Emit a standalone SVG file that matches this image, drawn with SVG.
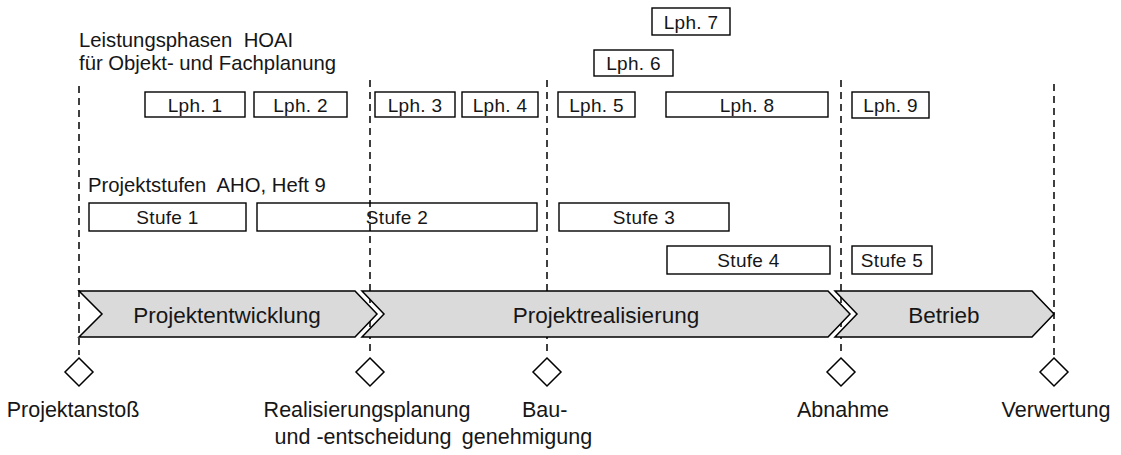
<svg xmlns="http://www.w3.org/2000/svg" width="1121" height="455" viewBox="0 0 1121 455">
  <style>
    text { font-family: "Liberation Sans", Arial, sans-serif; fill: #161616; }
    .title { font-size: 20.3px; }
    .box rect { fill: none; stroke: #000; stroke-width: 1.4; }
    .box text { font-size: 19px; text-anchor: middle; letter-spacing: 0.3px; }
    .phase path { fill: #dadada; stroke: #000; stroke-width: 1.5; stroke-linejoin: miter; }
    .phase text { font-size: 22.5px; text-anchor: middle; }
    .guide { stroke: #000; stroke-width: 1.5; stroke-dasharray: 7 5; fill: none; }
    .ms path { fill: #fff; stroke: #000; stroke-width: 1.5; }
    .ms text { font-size: 21.5px; text-anchor: middle; }
  </style>

  <!-- milestone guide lines -->
  <g id="guides">
    <line class="guide" x1="79" y1="86" x2="79" y2="355"/>
    <line class="guide" x1="370" y1="80" x2="370" y2="355"/>
    <line class="guide" x1="547" y1="80" x2="547" y2="355"/>
    <line class="guide" x1="841" y1="80" x2="841" y2="355"/>
    <line class="guide" x1="1054" y1="84" x2="1054" y2="355"/>
  </g>

  <!-- headings -->
  <text class="title" x="79" y="47" xml:space="preserve">Leistungsphasen  HOAI</text>
  <text class="title" x="79" y="70">für Objekt- und Fachplanung</text>
  <text class="title" x="88" y="192" xml:space="preserve">Projektstufen  AHO, Heft 9</text>

  <!-- HOAI work phases -->
  <g id="lph1" class="box"><rect x="145" y="92" width="100" height="25"/><text x="195" y="112">Lph. 1</text></g>
  <g id="lph2" class="box"><rect x="254" y="92" width="93" height="25"/><text x="300.5" y="112">Lph. 2</text></g>
  <g id="lph3" class="box"><rect x="375" y="92" width="80" height="25"/><text x="415" y="112">Lph. 3</text></g>
  <g id="lph4" class="box"><rect x="462" y="92" width="76" height="25"/><text x="500" y="112">Lph. 4</text></g>
  <g id="lph5" class="box"><rect x="558" y="92" width="77" height="25"/><text x="596.5" y="112">Lph. 5</text></g>
  <g id="lph6" class="box"><rect x="594" y="50" width="79" height="26"/><text x="633.5" y="70">Lph. 6</text></g>
  <g id="lph7" class="box"><rect x="652" y="8" width="78" height="27"/><text x="691" y="29">Lph. 7</text></g>
  <g id="lph8" class="box"><rect x="666" y="92" width="162" height="25"/><text x="747" y="112">Lph. 8</text></g>
  <g id="lph9" class="box"><rect x="852" y="92" width="77" height="26"/><text x="890.5" y="112">Lph. 9</text></g>

  <!-- AHO project stages -->
  <g id="stufe1" class="box"><rect x="89" y="203" width="157" height="28"/><text x="167.5" y="224">Stufe 1</text></g>
  <g id="stufe2" class="box"><rect x="257" y="203" width="280" height="28"/><text x="397" y="224">Stufe 2</text></g>
  <g id="stufe3" class="box"><rect x="559" y="203" width="170" height="28"/><text x="644" y="224">Stufe 3</text></g>
  <g id="stufe4" class="box"><rect x="667" y="246" width="163" height="28"/><text x="748.5" y="267">Stufe 4</text></g>
  <g id="stufe5" class="box"><rect x="852" y="246" width="80" height="28"/><text x="892" y="267">Stufe 5</text></g>

  <!-- project phases -->
  <g id="phase-entwicklung" class="phase">
    <path d="M79,291 L355,291 L377,314 L355,337 L79,337 L102,314 Z"/>
    <text x="227" y="323">Projektentwicklung</text>
  </g>
  <g id="phase-realisierung" class="phase">
    <path d="M362,291 L828,291 L850,314 L828,337 L362,337 L384,314 Z"/>
    <text x="606" y="323">Projektrealisierung</text>
  </g>
  <g id="phase-betrieb" class="phase">
    <path d="M835,291 L1032,291 L1054,314 L1032,337 L835,337 L857,314 Z"/>
    <text x="944" y="323">Betrieb</text>
  </g>

  <!-- milestones -->
  <g id="ms-anstoss" class="ms">
    <path d="M79,358 L93,372 L79,386 L65,372 Z"/>
    <text x="73" y="417">Projektanstoß</text>
  </g>
  <g id="ms-realisierung" class="ms">
    <path d="M370,358 L384,372 L370,386 L356,372 Z"/>
    <text x="367" y="417">Realisierungsplanung</text>
    <text x="363" y="444">und -entscheidung</text>
  </g>
  <g id="ms-genehmigung" class="ms">
    <path d="M547,358 L561,372 L547,386 L533,372 Z"/>
    <text x="522" y="417" style="text-anchor:start">Bau-</text>
    <text x="527" y="444">genehmigung</text>
  </g>
  <g id="ms-abnahme" class="ms">
    <path d="M841,358 L855,372 L841,386 L827,372 Z"/>
    <text x="843" y="417">Abnahme</text>
  </g>
  <g id="ms-verwertung" class="ms">
    <path d="M1054,358 L1068,372 L1054,386 L1040,372 Z"/>
    <text x="1056" y="417">Verwertung</text>
  </g>
</svg>
